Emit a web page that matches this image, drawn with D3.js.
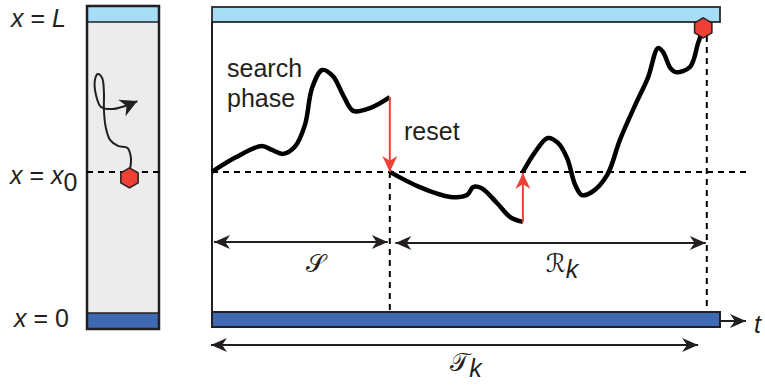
<!DOCTYPE html>
<html>
<head>
<meta charset="utf-8">
<script src="https://cdn.jsdelivr.net/npm/d3@7"></script>
<style>
  body { margin: 0; background: #fff; }
  svg { display: block; }
  text { font-family: "Liberation Sans", Arial, sans-serif; fill: #231f20; }
</style>
</head>
<body>
<svg id="chart" width="765" height="389"></svg>
<script>
// trajectory x(t): t in % of panel width, x in % of L
const X0 = 48.4
const searchPhase = [[0, 48.4], [4.5, 53.0], [9.8, 56.9], [11.8, 55.6], [14.0, 54.3], [16.3, 56.6],
  [18.3, 63.8], [19.7, 75.9], [21.7, 81.8], [23.8, 79.8], [25.8, 73.6], [27.8, 68.4], [31.1, 69.3], [35.0, 72.9]]
const returnPhase = [[35.0, 48.4], [40.9, 43.4], [46.9, 40.2], [50.2, 40.8], [51.4, 43.4], [53.0, 43.1],
  [56.1, 38.2], [58.7, 33.6], [61.2, 32.0]]
const finalPhase = [[61.2, 48.4], [63.6, 54.9], [66.1, 59.5], [68.1, 57.9], [69.9, 52.9], [71.5, 44.1],
  [72.8, 40.8], [74.8, 41.8], [77.8, 47.4], [80.3, 58.9], [83.3, 70.3], [85.8, 79.2], [87.8, 89.0],
  [88.8, 87.7], [90.2, 82.5], [91.3, 81.1], [94.1, 82.8], [95.7, 90.7], [96.5, 94.5]]
// wandering particle in the left box: [lateral 0..1, x]
const wander = [[0.6, 49.7], [0.61, 53.0], [0.56, 56.3], [0.43, 56.9], [0.32, 58.9], [0.26, 63.1],
  [0.235, 68.7], [0.235, 74.6], [0.21, 79.2], [0.15, 80.5], [0.11, 78.5], [0.125, 73.6], [0.195, 69.7],
  [0.35, 69.0], [0.53, 70.0], [0.7, 71.6]]
const resetT = 35.0
const returnT = 61.2
const hitT = 97.4
const hitPoint = [96.7, 95.6]
const intervals = [
  { name: "S", from: 0.4, to: 34.6, row: 25.4 },
  { name: "R", from: 36.1, to: 97.2, row: 25.1 },
  { name: "T", from: -0.2, to: 95.7, row: -8.4 }
]

const svg = d3.select("#chart")
const tScale = d3.scaleLinear().domain([0, 100]).range([212, 720])
const xScale = d3.scaleLinear().domain([0, 100]).range([319.5, 14.5])
const latScale = d3.scaleLinear().domain([0, 1]).range([87, 159])

const red = "#ee4035"
const ink = "#231f20"

const defs = svg.append("defs")
function head(id, color, len, half) {
  defs.append("marker")
    .attr("id", id)
    .attr("viewBox", `${-len - 1} ${-half - 1} ${len + 2} ${half * 2 + 2}`)
    .attr("refX", 0).attr("refY", 0)
    .attr("markerUnits", "userSpaceOnUse")
    .attr("markerWidth", len + 2).attr("markerHeight", half * 2 + 2)
    .attr("orient", "auto-start-reverse")
    .append("path")
    .attr("d", `M0,0L${-len},${-half}L${-len * 0.7},0L${-len},${half}Z`)
    .attr("fill", color)
}
head("blk", ink, 16, 7)
head("redh", red, 16, 7.5)
head("blkBig", ink, 17, 9)

function hexagon(cx, cy, r) {
  const pts = d3.range(6).map(i => {
    const a = Math.PI / 3 * i - Math.PI / 2
    return [cx + r * Math.cos(a), cy + r * Math.sin(a)]
  })
  return "M" + pts.join("L") + "Z"
}

// ---- left box ----
const left = svg.append("g")
left.append("rect")
  .attr("x", 87).attr("y", 6).attr("width", 72).attr("height", 323)
  .attr("fill", "#ececec")
left.append("rect")
  .attr("x", 87).attr("y", 6).attr("width", 72).attr("height", 16)
  .attr("fill", "#a6dcf5")
left.append("rect")
  .attr("x", 87).attr("y", 313).attr("width", 72).attr("height", 16)
  .attr("fill", "#3f6ab3")
left.selectAll("line.sep")
  .data([22, 313])
  .join("line")
  .attr("x1", 87).attr("x2", 159)
  .attr("y1", d => d).attr("y2", d => d)
  .attr("stroke", ink).attr("stroke-width", 1.5)
left.append("rect")
  .attr("x", 87).attr("y", 6).attr("width", 72).attr("height", 323)
  .attr("fill", "none").attr("stroke", ink).attr("stroke-width", 2.5)
left.append("line")
  .attr("x1", 87).attr("x2", 159)
  .attr("y1", xScale(X0)).attr("y2", xScale(X0))
  .attr("stroke", "#000").attr("stroke-width", 2).attr("stroke-dasharray", "6,5")

const wanderLine = d3.line()
  .x(d => latScale(d[0]))
  .y(d => xScale(d[1]))
  .curve(d3.curveCatmullRom)
left.append("path")
  .attr("d", wanderLine(wander))
  .attr("fill", "none").attr("stroke", ink).attr("stroke-width", 2)
  .attr("marker-end", "url(#blkBig)")
left.append("path")
  .attr("d", hexagon(latScale(0.59), xScale(X0) + 6, 10))
  .attr("fill", red).attr("stroke", ink).attr("stroke-width", 1.5)

// left labels
function posLabel(y, x, parts) {
  const t = svg.append("text").attr("x", x).attr("y", y).style("font-size", "25px")
  parts.forEach(p => {
    const s = t.append("tspan").text(p.s)
    if (p.i) s.style("font-style", "italic")
    if (p.dy) s.attr("dy", p.dy)
  })
}
posLabel(27, 11, [{ s: "x", i: true }, { s: " = " }, { s: "L", i: true }])
posLabel(184, 10, [{ s: "x", i: true }, { s: " = " }, { s: "x", i: true }, { s: "0", dy: 7 }])
posLabel(327, 14, [{ s: "x", i: true }, { s: " = " }, { s: "0" }])

// ---- main panel ----
const main = svg.append("g")
main.append("rect")
  .attr("x", tScale(0)).attr("y", 7).attr("width", tScale(100) - tScale(0)).attr("height", 15)
  .attr("fill", "#a6dcf5").attr("stroke", "#2a2a2a").attr("stroke-width", 1.8)
main.append("line")
  .attr("x1", tScale(0)).attr("x2", tScale(0)).attr("y1", 22).attr("y2", 312)
  .attr("stroke", ink).attr("stroke-width", 2)

const dashed = [
  { x1: tScale(0), x2: tScale(105.5), y1: xScale(X0), y2: xScale(X0) },
  { x1: tScale(resetT), x2: tScale(resetT), y1: xScale(X0), y2: 312 },
  { x1: tScale(hitT), x2: tScale(hitT), y1: 36, y2: 310 }
]
main.selectAll("line.dash")
  .data(dashed)
  .join("line")
  .attr("class", "dash")
  .attr("x1", d => d.x1).attr("x2", d => d.x2)
  .attr("y1", d => d.y1).attr("y2", d => d.y2)
  .attr("stroke", "#000").attr("stroke-width", 2).attr("stroke-dasharray", "6,5")

main.append("rect")
  .attr("x", tScale(0)).attr("y", 312).attr("width", tScale(100) - tScale(0)).attr("height", 15)
  .attr("fill", "#3f6ab3").attr("stroke", ink).attr("stroke-width", 2)

// t axis arrow
main.append("line")
  .attr("x1", tScale(100)).attr("x2", 746).attr("y1", 321).attr("y2", 321)
  .attr("stroke", ink).attr("stroke-width", 2).attr("marker-end", "url(#blk)")
svg.append("text").attr("x", 754).attr("y", 333)
  .style("font-size", "25px").style("font-style", "italic").text("t")

const traj = d3.line()
  .x(d => tScale(d[0]))
  .y(d => xScale(d[1]))
  .curve(d3.curveCatmullRom)
main.selectAll("path.traj")
  .data([searchPhase, returnPhase, finalPhase])
  .join("path")
  .attr("class", "traj")
  .attr("d", traj)
  .attr("fill", "none").attr("stroke", "#000").attr("stroke-width", 4.5)
  .attr("stroke-linecap", "butt").attr("stroke-linejoin", "round")

// reset arrows
main.append("line")
  .attr("x1", tScale(resetT)).attr("x2", tScale(resetT))
  .attr("y1", xScale(searchPhase[searchPhase.length - 1][1])).attr("y2", xScale(X0))
  .attr("stroke", red).attr("stroke-width", 2).attr("marker-end", "url(#redh)")
main.append("line")
  .attr("x1", tScale(returnT)).attr("x2", tScale(returnT))
  .attr("y1", xScale(returnPhase[returnPhase.length - 1][1])).attr("y2", xScale(X0) + 1)
  .attr("stroke", red).attr("stroke-width", 2).attr("marker-end", "url(#redh)")

main.append("path")
  .attr("d", hexagon(tScale(hitPoint[0]), xScale(hitPoint[1]), 10))
  .attr("fill", red).attr("stroke", ink).attr("stroke-width", 1.5)

// interval arrows
main.selectAll("line.span")
  .data(intervals)
  .join("line")
  .attr("class", "span")
  .attr("x1", d => tScale(d.from)).attr("x2", d => tScale(d.to))
  .attr("y1", d => xScale(d.row)).attr("y2", d => xScale(d.row))
  .attr("stroke", ink).attr("stroke-width", 2)
  .attr("marker-start", "url(#blk)").attr("marker-end", "url(#blk)")

svg.append("text").attr("x", 227).attr("y", 77).style("font-size", "25px").text("search")
svg.append("text").attr("x", 227).attr("y", 107).style("font-size", "25px").text("phase")
svg.append("text").attr("x", 404).attr("y", 140).style("font-size", "25px").text("reset")

const script = { S: "\u{1D4AE}", R: "\u211B", T: "\u{1D4AF}" }
const scriptLabels = [
  { key: "S", x: 315, y: 272, sub: "" },
  { key: "R", x: 562, y: 272, sub: "k" },
  { key: "T", x: 466, y: 371, sub: "k" }
]
scriptLabels.forEach(d => {
  const t = svg.append("text").attr("x", d.x).attr("y", d.y)
    .attr("text-anchor", "middle").style("font-size", "25px")
  t.append("tspan").style("font-family", "'DejaVu Serif', 'DejaVu Sans', serif").text(script[d.key])
  if (d.sub) t.append("tspan").attr("dy", 6).style("font-style", "italic").style("font-size", "25px").text(d.sub)
})
</script>
</body>
</html>
